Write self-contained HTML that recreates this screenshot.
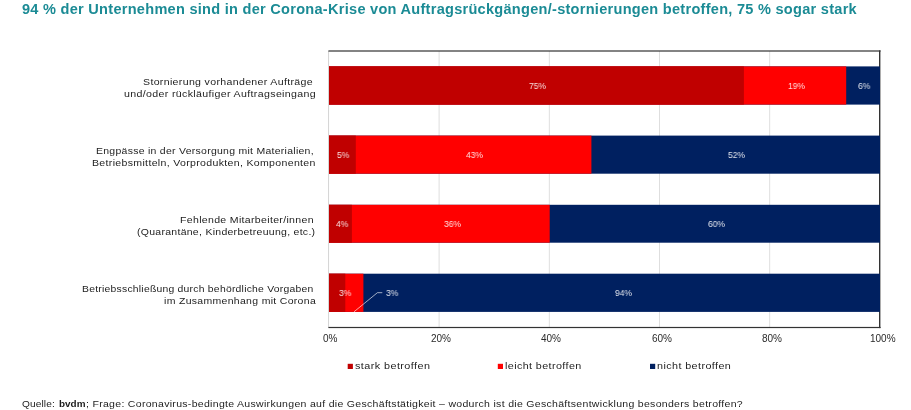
<!DOCTYPE html>
<html lang="de"><head><meta charset="utf-8"><title>Chart</title>
<style>
html,body{margin:0;padding:0;background:#fff;}
body{width:911px;height:410px;position:relative;overflow:hidden;font-family:"Liberation Sans",sans-serif;}
.t{position:absolute;white-space:pre;line-height:1;transform-origin:0 0;will-change:transform;}
</style></head><body>
<svg width="911" height="410" viewBox="0 0 911 410" style="position:absolute;left:0;top:0" shape-rendering="auto"><rect x="438.65" y="51.0" width="0.9" height="276.5" fill="#dbdbdb"/><rect x="548.85" y="51.0" width="0.9" height="276.5" fill="#dbdbdb"/><rect x="659.05" y="51.0" width="0.9" height="276.5" fill="#dbdbdb"/><rect x="769.25" y="51.0" width="0.9" height="276.5" fill="#dbdbdb"/><rect x="328.05" y="51.0" width="1.0" height="276.5" fill="#d4d4d4"/><rect x="328.40" y="50.40" width="552.20" height="1.2" fill="#333333"/><rect x="879.00" y="50.40" width="1.4" height="277.70" fill="#333333"/><rect x="328.40" y="326.90" width="552.20" height="1.2" fill="#333333"/><rect x="329.00" y="66.4" width="551.00" height="38.20" fill="#002060"/><rect x="329.00" y="66.4" width="517.20" height="38.20" fill="#ff0000"/><rect x="329.00" y="66.4" width="414.90" height="38.20" fill="#c00000"/><rect x="329.00" y="135.6" width="551.00" height="38.10" fill="#002060"/><rect x="329.00" y="135.6" width="262.40" height="38.10" fill="#ff0000"/><rect x="329.00" y="135.6" width="26.80" height="38.10" fill="#c00000"/><rect x="329.00" y="204.8" width="551.00" height="37.90" fill="#002060"/><rect x="329.00" y="204.8" width="220.70" height="37.90" fill="#ff0000"/><rect x="329.00" y="204.8" width="22.90" height="37.90" fill="#c00000"/><rect x="329.00" y="273.7" width="551.00" height="38.20" fill="#002060"/><rect x="329.00" y="273.7" width="34.40" height="38.20" fill="#ff0000"/><rect x="329.00" y="273.7" width="16.30" height="38.20" fill="#c00000"/><polyline points="354.0,311.8 377.4,292.7 382.3,292.7" fill="none" stroke="rgba(255,255,255,0.7)" stroke-width="0.9"/><rect x="347.7" y="363.8" width="5.2" height="5.2" fill="#c00000"/><rect x="497.8" y="363.8" width="5.2" height="5.2" fill="#ff0000"/><rect x="650.0" y="363.8" width="5.2" height="5.2" fill="#002060"/></svg>
<span class="t" style="left:21.90px;top:1.95px;font-size:14px;font-weight:700;color:#1b8b95;letter-spacing:0.264px;transform:scaleX(1.0390)">94 % der Unternehmen sind in der Corona-Krise von Auftragsrückgängen/-stornierungen betroffen, 75 % sogar stark</span>
<span class="t" style="left:143.40px;top:77.22px;font-size:9.9px;font-weight:400;color:#1c1c1c;letter-spacing:0.314px;transform:scaleX(1.0700)">Stornierung vorhandener Aufträge</span>
<span class="t" style="left:123.70px;top:89.22px;font-size:9.9px;font-weight:400;color:#1c1c1c;letter-spacing:0.321px;transform:scaleX(1.0743)">und/oder rückläufiger Auftragseingang</span>
<span class="t" style="left:96.40px;top:146.12px;font-size:9.9px;font-weight:400;color:#1c1c1c;letter-spacing:0.262px;transform:scaleX(1.0599)">Engpässe in der Versorgung mit Materialien,</span>
<span class="t" style="left:92.00px;top:158.22px;font-size:9.9px;font-weight:400;color:#1c1c1c;letter-spacing:0.307px;transform:scaleX(1.0684)">Betriebsmitteln, Vorprodukten, Komponenten</span>
<span class="t" style="left:179.50px;top:215.02px;font-size:9.9px;font-weight:400;color:#1c1c1c;letter-spacing:0.300px;transform:scaleX(1.0682)">Fehlende Mitarbeiter/innen</span>
<span class="t" style="left:137.30px;top:227.12px;font-size:9.9px;font-weight:400;color:#1c1c1c;letter-spacing:0.269px;transform:scaleX(1.0613)">(Quarantäne, Kinderbetreuung, etc.)</span>
<span class="t" style="left:81.70px;top:284.22px;font-size:9.9px;font-weight:400;color:#1c1c1c;letter-spacing:0.228px;transform:scaleX(1.0500)">Betriebsschließung durch behördliche Vorgaben</span>
<span class="t" style="left:163.70px;top:296.32px;font-size:9.9px;font-weight:400;color:#1c1c1c;letter-spacing:0.305px;transform:scaleX(1.0595)">im Zusammenhang mit Corona</span>
<span class="t" style="left:323.37px;top:334.14px;font-size:10px;font-weight:400;color:#2a2a2a;letter-spacing:0.000px;transform:scaleX(1.0000)">0%</span>
<span class="t" style="left:430.99px;top:334.14px;font-size:10px;font-weight:400;color:#2a2a2a;letter-spacing:0.000px;transform:scaleX(1.0000)">20%</span>
<span class="t" style="left:541.19px;top:334.14px;font-size:10px;font-weight:400;color:#2a2a2a;letter-spacing:0.000px;transform:scaleX(1.0000)">40%</span>
<span class="t" style="left:651.69px;top:334.14px;font-size:10px;font-weight:400;color:#2a2a2a;letter-spacing:0.000px;transform:scaleX(1.0000)">60%</span>
<span class="t" style="left:761.99px;top:334.14px;font-size:10px;font-weight:400;color:#2a2a2a;letter-spacing:0.000px;transform:scaleX(1.0000)">80%</span>
<span class="t" style="left:869.71px;top:334.14px;font-size:10px;font-weight:400;color:#2a2a2a;letter-spacing:0.000px;transform:scaleX(1.0000)">100%</span>
<span class="t" style="left:355.00px;top:361.02px;font-size:9.9px;font-weight:400;color:#1c1c1c;letter-spacing:0.390px;transform:scaleX(1.0949)">stark betroffen</span>
<span class="t" style="left:505.00px;top:361.02px;font-size:9.9px;font-weight:400;color:#1c1c1c;letter-spacing:0.357px;transform:scaleX(1.0905)">leicht betroffen</span>
<span class="t" style="left:657.40px;top:361.02px;font-size:9.9px;font-weight:400;color:#1c1c1c;letter-spacing:0.373px;transform:scaleX(1.0913)">nicht betroffen</span>
<span class="t" style="left:22.10px;top:398.92px;font-size:9.9px;font-weight:400;color:#1c1c1c;letter-spacing:0.122px;transform:scaleX(1.0240)">Quelle:</span>
<span class="t" style="left:59.00px;top:398.92px;font-size:9.9px;font-weight:700;color:#1c1c1c;letter-spacing:0.026px;transform:scaleX(1.0030)">bvdm</span>
<span class="t" style="left:86.20px;top:398.92px;font-size:9.9px;font-weight:400;color:#1c1c1c;letter-spacing:0.279px;transform:scaleX(1.0656)">; Frage: Coronavirus-bedingte Auswirkungen auf die Geschäftstätigkeit – wodurch ist die Geschäftsentwicklung besonders betroffen?</span>
<span class="t" style="left:529.33px;top:81.58px;font-size:9px;font-weight:400;color:rgba(255,255,255,0.88);letter-spacing:0.000px;transform:scaleX(0.9400)">75%</span>
<span class="t" style="left:787.73px;top:81.58px;font-size:9px;font-weight:400;color:rgba(255,255,255,0.88);letter-spacing:0.000px;transform:scaleX(0.9400)">19%</span>
<span class="t" style="left:858.08px;top:81.58px;font-size:9px;font-weight:400;color:rgba(255,255,255,0.88);letter-spacing:0.000px;transform:scaleX(0.9400)">6%</span>
<span class="t" style="left:337.28px;top:150.58px;font-size:9px;font-weight:400;color:rgba(255,255,255,0.88);letter-spacing:0.000px;transform:scaleX(0.9400)">5%</span>
<span class="t" style="left:465.53px;top:150.58px;font-size:9px;font-weight:400;color:rgba(255,255,255,0.88);letter-spacing:0.000px;transform:scaleX(0.9400)">43%</span>
<span class="t" style="left:728.03px;top:150.58px;font-size:9px;font-weight:400;color:rgba(255,255,255,0.88);letter-spacing:0.000px;transform:scaleX(0.9400)">52%</span>
<span class="t" style="left:335.58px;top:219.78px;font-size:9px;font-weight:400;color:rgba(255,255,255,0.88);letter-spacing:0.000px;transform:scaleX(0.9400)">4%</span>
<span class="t" style="left:443.53px;top:219.78px;font-size:9px;font-weight:400;color:rgba(255,255,255,0.88);letter-spacing:0.000px;transform:scaleX(0.9400)">36%</span>
<span class="t" style="left:707.53px;top:219.78px;font-size:9px;font-weight:400;color:rgba(255,255,255,0.88);letter-spacing:0.000px;transform:scaleX(0.9400)">60%</span>
<span class="t" style="left:339.28px;top:288.68px;font-size:9px;font-weight:400;color:rgba(255,255,255,0.88);letter-spacing:0.000px;transform:scaleX(0.9400)">3%</span>
<span class="t" style="left:385.88px;top:288.68px;font-size:9px;font-weight:400;color:rgba(255,255,255,0.88);letter-spacing:0.000px;transform:scaleX(0.9400)">3%</span>
<span class="t" style="left:614.53px;top:288.68px;font-size:9px;font-weight:400;color:rgba(255,255,255,0.88);letter-spacing:0.000px;transform:scaleX(0.9400)">94%</span>
</body></html>
